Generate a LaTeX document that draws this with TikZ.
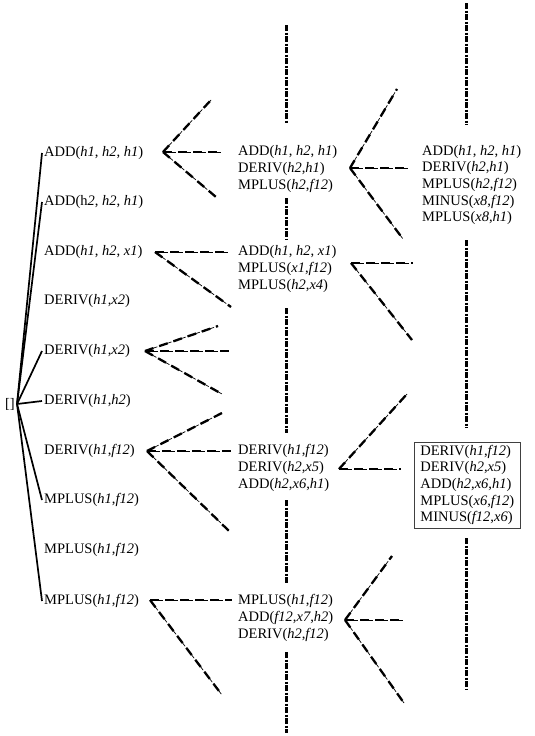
\documentclass[tikz,border=0pt]{standalone}
\usepackage{fontspec}
\setmainfont{Liberation Serif}
\tikzset{
    LABEL/.style={anchor=west, inner sep=2pt, align=left,
        font={\fontsize{14.5}{16.7}\selectfont}},
    BOXED_LABEL/.style={LABEL, draw=black!75, line width=0.8pt,
        inner xsep=6pt, inner ysep=3pt},
    ROOT_EDGE/.style={draw=black, line width=1.7pt},
    BRANCH/.style={draw=black, line width=2.3pt,
        dash pattern=on 9pt off 6pt,
        preaction={draw=black, line width=0.7pt, dash pattern=on 13pt off 2pt}},
    STUB/.style={draw=black, line width=3pt,
        dash pattern=on 6pt off 1.5pt on 2pt off 1.5pt}
}
\newcommand{\iv}[1]{\textit{#1}}
\pgfdeclarelayer{edgelayer}
\pgfdeclarelayer{nodelayer}
\pgfsetlayers{edgelayer,nodelayer,main}

\begin{document}
\begin{tikzpicture}[x=1pt, y=-1pt]
    \useasboundingbox (0,0) rectangle (535,736);
    \begin{pgfonlayer}{nodelayer}
        \node [LABEL, anchor=center] (root) at (10,404) {[]};
        \node [LABEL] (l1) at (42,153) {ADD(\iv{h1}, \iv{h2}, \iv{h1})};
        \node [LABEL] (l2) at (42,202) {ADD(h\iv{2}, \iv{h2}, \iv{h1})};
        \node [LABEL] (l3) at (42,252) {ADD(\iv{h1}, \iv{h2}, \iv{x1})};
        \node [LABEL] (l4) at (42,301) {DERIV(\iv{h1},\iv{x2})};
        \node [LABEL] (l5) at (42,351) {DERIV(\iv{h1},\iv{x2})};
        \node [LABEL] (l6) at (42,401) {DERIV(\iv{h1},\iv{h2})};
        \node [LABEL] (l7) at (42,451) {DERIV(\iv{h1},\iv{f12})};
        \node [LABEL] (l8) at (42,500) {MPLUS(\iv{h1},\iv{f12})};
        \node [LABEL] (l9) at (42,550) {MPLUS(\iv{h1},\iv{f12})};
        \node [LABEL] (l10) at (42,601) {MPLUS(\iv{h1},\iv{f12})};
        \node [LABEL] (m1) at (236,169) {ADD(\iv{h1}, \iv{h2}, \iv{h1})\\DERIV(\iv{h2},\iv{h1})\\MPLUS(\iv{h2},\iv{f12})};
        \node [LABEL] (m2) at (236,269) {ADD(\iv{h1}, \iv{h2}, \iv{x1})\\MPLUS(\iv{x1},\iv{f12})\\MPLUS(\iv{h2},\iv{x4})};
        \node [LABEL] (m3) at (236,468) {DERIV(\iv{h1},\iv{f12})\\DERIV(\iv{h2},\iv{x5})\\ADD(\iv{h2},\iv{x6},\iv{h1})};
        \node [LABEL] (m4) at (236,618) {MPLUS(\iv{h1},\iv{f12})\\ADD(\iv{f12},\iv{x7},\iv{h2})\\DERIV(\iv{h2},\iv{f12})};
        \node [LABEL] (r1) at (420,185) {ADD(\iv{h1}, \iv{h2}, \iv{h1})\\DERIV(\iv{h2},\iv{h1})\\MPLUS(\iv{h2},\iv{f12})\\MINUS(\iv{x8},\iv{f12})\\MPLUS(\iv{x8},\iv{h1})};
        \node [BOXED_LABEL] (r2) at (414,485) {DERIV(\iv{h1},\iv{f12})\\DERIV(\iv{h2},\iv{x5})\\ADD(\iv{h2},\iv{x6},\iv{h1})\\MPLUS(\iv{x6},\iv{f12})\\MINUS(\iv{f12},\iv{x6})};
        % branch vertices and loose ends
        \coordinate (a0) at (163,152);
        \coordinate (a1) at (211,100);
        \coordinate (a2) at (222,152);
        \coordinate (a3) at (216,197);
        \coordinate (b0) at (155,252);
        \coordinate (b2) at (228,252);
        \coordinate (b3) at (231,307);
        \coordinate (c0) at (145,351);
        \coordinate (c1) at (218,326);
        \coordinate (c2) at (229,351);
        \coordinate (c3) at (222,394);
        \coordinate (d0) at (147,451);
        \coordinate (d1) at (222,413);
        \coordinate (d2) at (231,451);
        \coordinate (d3) at (229,531);
        \coordinate (e0) at (150,600);
        \coordinate (e2) at (232,600);
        \coordinate (e3) at (222,695);
        \coordinate (f0) at (350,168);
        \coordinate (f1) at (397,89);
        \coordinate (f2) at (408,168);
        \coordinate (f3) at (403,239);
        \coordinate (g0) at (351,263);
        \coordinate (g2) at (413,263);
        \coordinate (g3) at (412,340);
        \coordinate (h0) at (339,469);
        \coordinate (h1) at (407,394);
        \coordinate (h2) at (401,469);
        \coordinate (k0) at (345,620);
        \coordinate (k1) at (392,556);
        \coordinate (k2) at (403,620);
        \coordinate (k3) at (404,703);
        % stub ends
        \coordinate (s1) at (286,25);
        \coordinate (s2) at (286,123);
        \coordinate (s3) at (286,198);
        \coordinate (s4) at (286,240);
        \coordinate (s5) at (286,308);
        \coordinate (s6) at (286,433);
        \coordinate (s7) at (286,500);
        \coordinate (s8) at (286,583);
        \coordinate (s9) at (286,652);
        \coordinate (s10) at (286,733);
        \coordinate (t1) at (466,3);
        \coordinate (t2) at (466,125);
        \coordinate (t3) at (466,240);
        \coordinate (t4) at (466,428);
        \coordinate (t5) at (466,538);
        \coordinate (t6) at (466,689);
    \end{pgfonlayer}
    \begin{pgfonlayer}{edgelayer}
        \draw[ROOT_EDGE] (root.east) to (l1.west);
        \draw[ROOT_EDGE] (root.east) to (l2.west);
        \draw[ROOT_EDGE] (root.east) to (l5.west);
        \draw[ROOT_EDGE] (root.east) to (l6.west);
        \draw[ROOT_EDGE] (root.east) to (l8.west);
        \draw[ROOT_EDGE] (root.east) to (l10.west);
        \draw[BRANCH] (a0) to (a1);
        \draw[BRANCH] (a0) to (a2);
        \draw[BRANCH] (a0) to (a3);
        \draw[BRANCH] (b0) to (b2);
        \draw[BRANCH] (b0) to (b3);
        \draw[BRANCH] (c0) to (c1);
        \draw[BRANCH] (c0) to (c2);
        \draw[BRANCH] (c0) to (c3);
        \draw[BRANCH] (d0) to (d1);
        \draw[BRANCH] (d0) to (d2);
        \draw[BRANCH] (d0) to (d3);
        \draw[BRANCH] (e0) to (e2);
        \draw[BRANCH] (e0) to (e3);
        \draw[BRANCH] (f0) to (f1);
        \draw[BRANCH] (f0) to (f2);
        \draw[BRANCH] (f0) to (f3);
        \draw[BRANCH] (g0) to (g2);
        \draw[BRANCH] (g0) to (g3);
        \draw[BRANCH] (h0) to (h1);
        \draw[BRANCH] (h0) to (h2);
        \draw[BRANCH] (k0) to (k1);
        \draw[BRANCH] (k0) to (k2);
        \draw[BRANCH] (k0) to (k3);
        % dash-dot stubs above and below the groups
        \draw[STUB] (s1) to (s2);
        \draw[STUB] (s3) to (s4);
        \draw[STUB] (s5) to (s6);
        \draw[STUB] (s7) to (s8);
        \draw[STUB] (s9) to (s10);
        \draw[STUB] (t1) to (t2);
        \draw[STUB] (t3) to (t4);
        \draw[STUB] (t5) to (t6);
    \end{pgfonlayer}
\end{tikzpicture}
\end{document}
